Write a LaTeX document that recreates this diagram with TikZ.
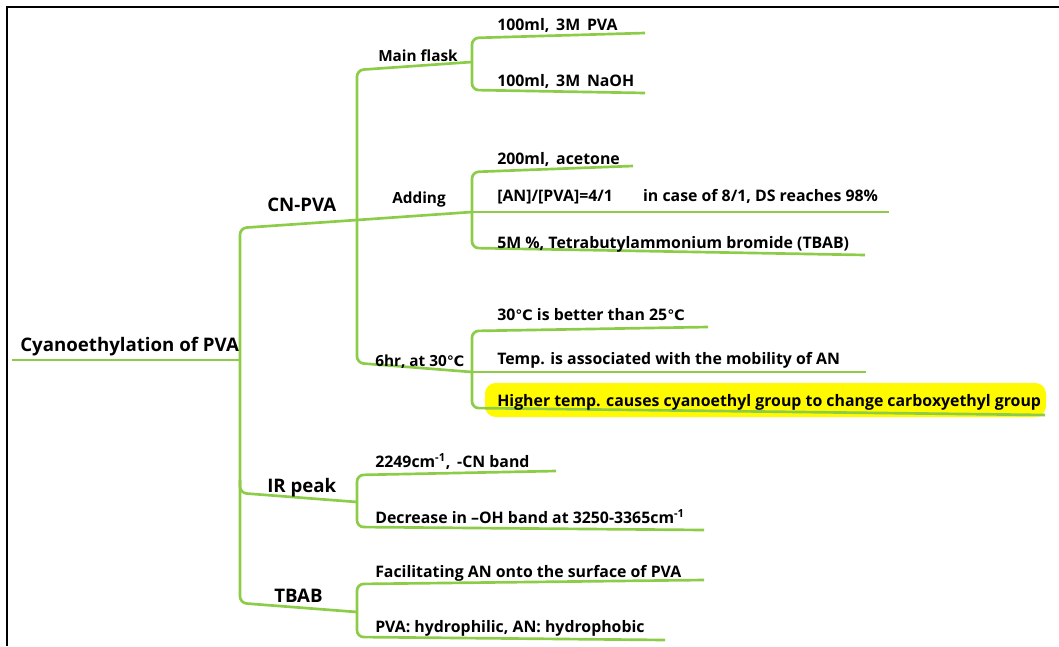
\documentclass[tikz,border=0pt]{standalone}
\usepackage{fontspec}
\setmainfont{Open Sans}
\newfontfamily\symfont{DejaVu Sans}
\definecolor{branchgreen}{RGB}{140,204,72}
\definecolor{marker}{RGB}{255,250,0}
\newcommand{\degc}{{\symfont\fontsize{10.8}{12}\selectfont ℃}}
\begin{document}
\begin{tikzpicture}[
        x={(0.75pt,0pt)},
        y={(0pt,-0.75pt)},
        branch/.style={draw=branchgreen, line width=2pt, rounded corners=5pt},
        topic/.style={font=\bfseries\fontsize{14}{16}\selectfont, anchor=base west, inner sep=0pt},
        subtopic/.style={font=\bfseries\fontsize{11.5}{13}\selectfont, anchor=base west, inner sep=0pt},
        leaf/.style={font=\bfseries\fontsize{11.9}{13}\selectfont, anchor=base west, inner sep=0pt}
    ]
    \useasboundingbox (0,0) rectangle (1059,646);
    \draw[line width=1.5pt] (1059,7) -- (7,7) -- (7,646);

    % joints
    \coordinate (R0) at (12,360);
    \coordinate (T) at (240,360);
    \coordinate (CN) at (357,220);
    \coordinate (IR) at (357,502);
    \coordinate (TB) at (357,612);
    \coordinate (MF) at (472,62);
    \coordinate (AD) at (472,212);
    \coordinate (HR) at (472,372);
    % free ends of the underlines
    \coordinate (E1) at (645,33);
    \coordinate (E2) at (645,93);
    \coordinate (E3) at (633,166);
    \coordinate (E4) at (889,212);
    \coordinate (E5) at (865,255);
    \coordinate (E6) at (708,327);
    \coordinate (E7) at (866,372);
    \coordinate (E8) at (1045,415);
    \coordinate (E9) at (556,471);
    \coordinate (E10) at (704,530);
    \coordinate (E11) at (704,580);
    \coordinate (E12) at (665,640);

    % highlight
    \fill[marker, rounded corners=8pt] (485,383) rectangle (1046,417);

    % branches
    \draw[branch] (R0) -- (T);
    \draw[branch] (CN) -- (240,228) -- (240,603) -- (TB);
    \draw[branch] (240,480) -- (240,493) -- (IR);
    \draw[branch] (MF) -- (357,70) -- (357,363) -- (HR);
    \draw[branch] (CN) -- (AD);
    \draw[branch] (E1) -- (472,38) -- (472,90) -- (E2);
    \draw[branch] (E3) -- (472,172) -- (472,248) -- (E5);
    \draw[branch] (AD) -- (E4);
    \draw[branch] (E6) -- (472,331) -- (472,408) -- (E8);
    \draw[branch] (HR) -- (E7);
    \draw[branch] (E9) -- (357,475) -- (357,527) -- (E10);
    \draw[branch] (E11) -- (357,584) -- (357,637) -- (E12);

    % texts
    \node[topic] (root) at (20,351) {Cyanoethylation of PVA};
    \node[topic] (cnpva) at (267,211) {CN-PVA};
    \node[topic] (irpeak) at (267,492) {IR peak};
    \node[topic] (tbab) at (274,602) {TBAB};
    \node[subtopic] (flask) at (378,61) {Main flask};
    \node[subtopic] (adding) at (392,203) {Adding};
    \node[subtopic] (sixhr) at (375,366) {6hr, at 30\degc};
    \node[leaf] (pva) at (497,30) {100ml,\, 3M\, PVA};
    \node[leaf] (naoh) at (497,86) {100ml,\, 3M\, NaOH};
    \node[leaf] (acetone) at (497,164) {200ml,\, acetone};
    \node[leaf] (ratio) at (497,201) {[AN]/[PVA]=4/1\hspace{1.9em}in case of 8/1, DS reaches 98\%};
    \node[leaf] (salt) at (497,248) {5M \%, Tetrabutylammonium bromide (TBAB)};
    \node[leaf] (better) at (497,320) {30\degc\ is better than 25\degc};
    \node[leaf] (mobility) at (497,364) {Temp. is associated with the mobility of AN};
    \node[leaf] (higher) at (497,406) {Higher temp. causes cyanoethyl group to change carboxyethyl group};
    \node[leaf] (cnband) at (375,467) {2249cm\textsuperscript{-1},\, -CN band};
    \node[leaf] (ohband) at (375,523) {Decrease in –OH band at 3250-3365cm\textsuperscript{-1}};
    \node[leaf] (facil) at (375,577) {Facilitating AN onto the surface of PVA};
    \node[leaf] (hydro) at (375,632) {PVA: hydrophilic, AN: hydrophobic};
\end{tikzpicture}
\end{document}
